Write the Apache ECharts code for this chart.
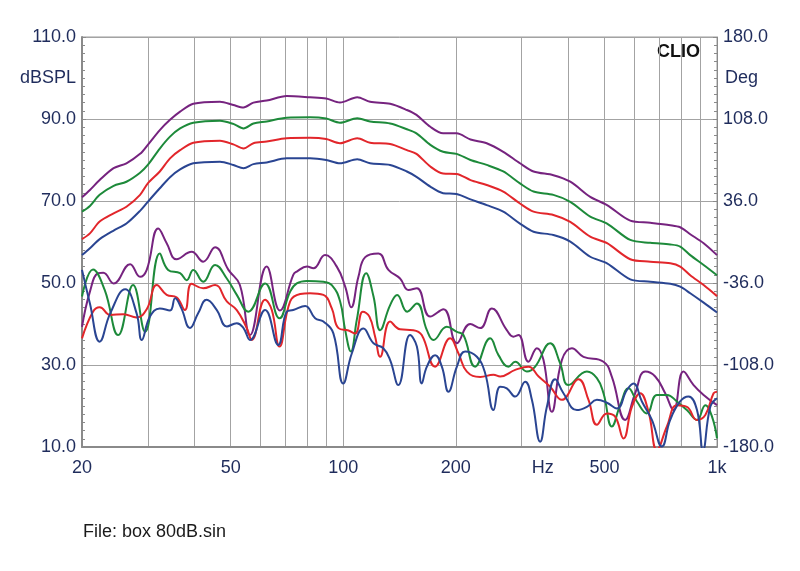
<!DOCTYPE html>
<html><head><meta charset="utf-8">
<script src="https://cdn.jsdelivr.net/npm/echarts@6/dist/echarts.min.js"></script>
<style>html,body{margin:0;padding:0;background:#fff}#c{width:800px;height:571px}</style>
</head><body><div id="c"></div>
<script>
// ---- axes ----
const xGridValues = [20,30,40,50,60,70,80,90,100,200,300,400,500,600,700,800,900,1000];
const xLabelValues = [20,50,100,200,342,500,1000];
const xLabelNames = ['20','50','100','200','Hz','500','1k'];
const leftMin = 10, leftMax = 110, leftStep = 20;
const rightMin = -180, rightMax = 180, rightStep = 72;

// ---- frequency response curves (upper) ----
const respFreq = [20,21,22.3,24.3,26.3,28.6,30,32.3,34.4,36.6,39.7,46.8,50.8,54.1,57.5,62.4,70.6,81.5,90,98,109,118,133.5,148,157,171,185,201,219,242,268,297,323,365,405,458,508,586,663,750,797,848,921,1000];
const purpleResp = [70.9,72.7,75.1,78.0,79.2,81.5,83.7,87.3,89.8,91.8,93.7,94.2,93.4,92.8,94.0,94.5,95.6,95.3,95.0,94.0,95.3,94.2,93.7,92.2,91.0,88.1,86.5,86.5,85.0,84.1,82.0,79.2,77.2,76.3,74.7,71.0,69.0,65.2,64.7,64.1,63.6,61.9,59.7,56.8];
const greenResp = [67.4,68.8,71.5,73.7,74.7,76.9,78.8,82.8,85.7,87.7,89.1,89.6,88.8,87.7,88.9,89.4,90.3,90.4,90.1,89.1,90.2,89.4,88.9,87.5,86.5,83.7,82.0,81.5,80.0,78.8,77.2,74.3,72.3,71.5,69.8,66.2,64.5,60.5,59.8,59.4,58.9,56.8,54.4,51.9];
const redResp = [60.7,62.1,65.0,67.0,68.6,71.5,74.3,77.2,80.4,82.4,84.2,84.7,83.8,82.8,84.1,84.5,85.3,85.4,85.1,84.1,85.3,84.2,83.9,82.4,81.5,78.4,76.7,76.6,75.1,73.9,72.3,69.4,67.4,66.6,64.9,61.3,59.7,55.8,55.2,54.8,54.0,51.9,49.5,46.8];
const blueResp = [56.8,58.5,60.7,62.8,64.5,67.6,69.8,73.1,75.8,77.7,79.2,79.6,78.8,78.0,79.0,79.4,80.4,80.4,80.0,79.2,80.2,79.2,78.8,77.2,75.9,73.5,71.9,71.7,70.4,69.0,67.4,64.5,62.5,61.7,60.1,56.4,54.8,50.9,50.3,49.8,49.1,47.5,45.2,42.8];

// ---- distortion curves (lower) ----
const purpleDistF = [20,21.0,22.1,22.8,24.3,26.9,28.6,29.8,32.0,33.7,35.8,39.3,42.2,45.4,49.3,52.9,56.3,62.4,67.7,73.5,75.1,80,83.2,89.4,96.1,101.2,105,109.8,114.5,124.2,132.1,141.9,149.4,157.4,170.8,185.4,201.4,218.6,232.5,249.8,273.9,285.2,294.3,313,329.7,343.4,361.5,384.5,409,439.3,496.9,523.3,568,604,642.5,683.4,726.8,764.8,813.4,865.7,920.8,1000];
const purpleDistV = [39.3,47.9,52.4,52.5,49.9,54.6,51.5,53.2,63.3,59.7,55.8,57.6,55.2,58.7,53.2,49.5,37.3,54.0,43.3,52.0,52.8,54.0,53.6,56.8,54.0,49.1,44.1,51.5,56.3,57.2,53.2,51.1,48.3,48.7,41.8,43.6,35.3,40.0,39.0,43.8,38.5,36.9,37.3,30.8,34.1,31.2,18.6,31.2,34.1,32.0,30.8,27.1,16.6,23.1,28.4,27.2,23.1,19.0,28.4,25.1,22.7,20.2];
const greenDistF = [20,21.4,23.0,25.0,27.4,29.5,32.3,34.0,36.6,38.1,39.7,42.2,45.4,48.8,51.9,55.7,61.8,67.5,72.1,75.1,80,88.5,93.2,98.1,101.2,104.8,108.7,115.2,120.5,125.5,133.5,139.4,148.3,157.4,167.4,174.3,189.3,201.4,209.7,225.4,247.2,260.2,276.7,288.4,309.9,326.2,357.8,380.5,400.5,448.6,477.1,496.9,523.3,550.7,579.6,610.5,649.3,690.6,734.5,781,830.6,884,930.5,969.7,1000];
const greenDistV = [46.7,53.3,48.3,37.3,49.5,38.1,57.2,53.2,52.4,50.7,53.2,50.3,54.4,51.1,47.1,43.0,49.9,41.4,47.9,49.9,50.5,50.3,49.5,45.5,38.5,33.3,41.0,52.4,46.7,38.5,44.6,47.1,43.0,45.0,38.5,36.1,39.3,38.1,37.3,29.6,36.5,32.4,29.6,30.8,28.4,29.6,35.3,30.4,25.1,28.4,26.8,23.1,15.0,20.2,24.3,21.1,18.2,22.7,22.7,21.1,19.0,16.6,20.2,17.4,12.1];
const redDistF = [20,21.4,22.3,23.8,25.8,28.0,29.8,31.7,33.7,35.8,37.7,39.3,42.2,45.4,48.8,51.9,55.2,56.9,61.8,64.4,67.5,72.1,76.7,81.5,88.5,93.2,97.1,103.3,107.6,112.8,117.5,121.7,125.5,133.5,141.9,154,162.2,176.1,193.2,203.4,214.2,232.5,252.3,263,288.4,313,333.3,357.8,384.5,426,453.1,477.1,507.5,534,562.1,591.9,623,655.8,690.6,734.5,781,830.6,884,930.5,979.2,1000];
const redDistV = [36.5,43.0,44.1,42.2,42.4,41.6,43.6,49.5,47.1,46.5,43.4,49.8,48.7,49.5,45.5,43.4,39.0,36.1,45.9,43.4,34.5,45.5,47.3,47.5,47.1,43.8,39.0,38.4,37.7,43.0,41.8,36.9,32.0,40.6,38.7,38.5,37.3,29.6,36.5,32.8,28.4,27.1,27.6,27.2,28.8,29.6,27.2,24.7,21.5,26.5,21.5,15.4,18.2,17.4,12.1,19.8,23.1,18.6,9.3,15.0,20.2,19.8,16.6,17.8,23.1,23.5];
const blueDistF = [20,21.0,22.3,23.8,26.1,28.0,28.9,30.4,32.3,34.4,35.5,36.9,38.9,40.9,43.1,45.9,48.8,51.9,54.1,56.3,61.8,67.0,70.6,73.5,79.1,84.1,88.5,94.1,100,105.4,113.3,120.5,128,133.5,140.4,150.9,157.4,162.2,167.4,176.1,183.6,191.2,201.4,211.9,227.8,239.7,252.3,263,273.9,288.4,306.7,319.7,336.4,350.6,368.9,388.3,421.8,448.6,477.1,507.5,539.7,574,597.8,629.6,669.6,712.2,749.4,797,838.9,884,917.4,959.5,1000];
const blueDistV = [53.2,45.0,35.7,42.6,48.5,42.6,36.1,41.8,43.8,43.3,46.3,43.8,39.0,42.6,45.9,43.4,39.4,40.2,39.0,36.1,43.4,34.9,43.0,43.4,44.4,41.4,40.6,37.7,25.5,32.8,38.9,35.3,34.1,31.2,25.1,37.3,34.5,25.5,29.6,32.4,29.6,23.5,29.6,33.3,32.0,28.0,19.0,24.7,24.3,22.3,25.9,21.5,11.3,19.8,26.5,23.1,19.0,19.8,21.5,20.8,19.4,23.9,25.5,21.1,16.6,10.1,16.6,21.1,22.3,19.0,9.3,19.8,21.9];

const COLORS = {purple:'#76237f', green:'#1d8a3a', red:'#e2262b', blue:'#2a4592'};
const LABEL_COLOR = '#1f2c5c';
const FONT = '"Liberation Sans", Arial, sans-serif';

function pairs(f, v){ return f.map((x,i)=>[x, v[i]]); }
function line(name, color, f, v, smooth){
  return {name, type:'line', data:pairs(f,v), showSymbol:false, smooth:smooth,
    lineStyle:{color, width:2}, itemStyle:{color}, clip:true, animation:false, z:3};
}

const chart = echarts.init(document.getElementById('c'), null, {renderer:'canvas'});
chart.setOption({
  backgroundColor:'#fff',
  animation:false,
  grid:{left:82, right:83, top:37, bottom:124, show:true, borderColor:'#9a9a9a', borderWidth:1, outerBoundsMode:'none'},
  xAxis:{type:'log', logBase:10, min:20, max:1000,
    axisLine:{show:true, onZero:false, lineStyle:{color:'#8a8a8a', width:2}},
    axisTick:{show:false, customValues:xGridValues},
    splitLine:{show:true, lineStyle:{color:'#a3a3a3', width:1}},
    axisLabel:{customValues:xLabelValues, color:LABEL_COLOR, fontSize:18, fontFamily:FONT, margin:12,
      formatter:(v)=>{let best=0,bd=1e9;xLabelValues.forEach((x,i)=>{const d=Math.abs(Math.log(x)-Math.log(v));if(d<bd){bd=d;best=i;}});return xLabelNames[best];}}
  },
  yAxis:[
    {type:'value', min:leftMin, max:leftMax, interval:leftStep, position:'left',
     axisLine:{show:true, lineStyle:{color:'#8a8a8a', width:2}},
     axisTick:{show:true, inside:true, length:4, lineStyle:{color:'#8a8a8a'}},
     minorTick:{show:true, splitNumber:10, length:3, lineStyle:{color:'#8a8a8a'}},
     splitLine:{show:true, lineStyle:{color:'#a3a3a3', width:1}},
     axisLabel:{color:LABEL_COLOR, fontSize:18, fontFamily:FONT, margin:6, formatter:(v)=>v.toFixed(1)},
     name:'dBSPL', nameLocation:'end', nameGap:-41,
     nameTextStyle:{color:LABEL_COLOR, fontSize:18, fontFamily:FONT, align:'right', verticalAlign:'middle', padding:[0,6,0,0]}
    },
    {type:'value', min:rightMin, max:rightMax, interval:rightStep, position:'right',
     axisLine:{show:true, lineStyle:{color:'#8a8a8a', width:1}},
     axisTick:{show:true, inside:true, length:4, lineStyle:{color:'#8a8a8a'}},
     minorTick:{show:true, splitNumber:10, length:3, lineStyle:{color:'#8a8a8a'}},
     splitLine:{show:false},
     axisLabel:{color:LABEL_COLOR, fontSize:18, fontFamily:FONT, margin:6, formatter:(v)=>v.toFixed(1)},
     name:'Deg', nameLocation:'end', nameGap:-41,
     nameTextStyle:{color:LABEL_COLOR, fontSize:18, fontFamily:FONT, align:'left', verticalAlign:'middle', padding:[0,0,0,8]}
    }
  ],
  graphic:[
    {type:'text', right:100, top:43, style:{text:'CLIO', font:'bold 18px '+FONT, fill:'#111'}},
    {type:'text', left:83, top:523, style:{text:'File: box 80dB.sin', font:'18px '+FONT, fill:'#1a1a1a'}}
  ],
  series:[
    line('purpleResp', COLORS.purple, respFreq, purpleResp, 0.3),
    line('greenResp', COLORS.green, respFreq, greenResp, 0.3),
    line('redResp', COLORS.red, respFreq, redResp, 0.3),
    line('blueResp', COLORS.blue, respFreq, blueResp, 0.3),
    line('purpleDist', COLORS.purple, purpleDistF, purpleDistV, 0.45),
    line('greenDist', COLORS.green, greenDistF, greenDistV, 0.45),
    line('redDist', COLORS.red, redDistF, redDistV, 0.45),
    line('blueDist', COLORS.blue, blueDistF, blueDistV, 0.45)
  ]
});
</script></body></html>
